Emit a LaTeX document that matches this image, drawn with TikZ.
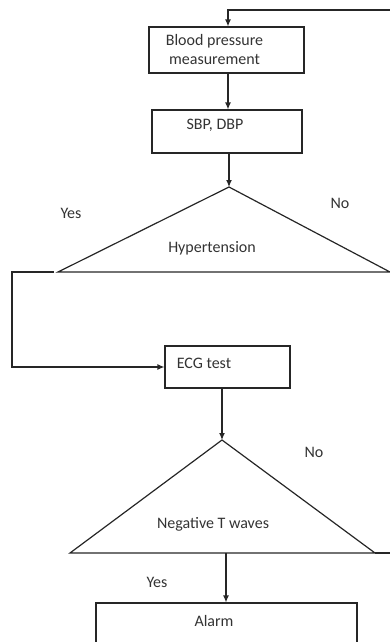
\documentclass[tikz,border=0pt]{standalone}
\usepackage{fontspec}
\setmainfont{Carlito}
\usetikzlibrary{arrows.meta}
\begin{document}
\begin{tikzpicture}[
    x=1pt, y=-1pt,
    every node/.style = {font=\fontsize{16}{19}\selectfont, text=black!80},
    box/.style = {draw=black!85, line width=1.1pt, rectangle, inner sep=0pt},
    flow/.style = {draw=black!85, line width=1.2pt},
    arr/.style = {flow, -{Latex[length=7pt,width=6pt]}}
    ]
    \useasboundingbox (0,0) rectangle (390,642);
    % boxes
    \node[box, minimum width=155pt, minimum height=46pt,
          label={[xshift=-12pt, align=center]center:{Blood pressure\\measurement}}] (bpm) at (226.5,50) {};
    \node[box, minimum width=150pt, minimum height=43pt,
          label={[xshift=-12pt, yshift=6.5pt]center:{SBP, DBP}}] (sbp) at (227,131.5) {};
    \node[box, minimum width=125pt, minimum height=42pt,
          label={[xshift=-23.5pt, yshift=4pt]center:{ECG test}}] (ecg) at (227.5,367) {};
    \node[box, minimum width=261pt, minimum height=56pt,
          label={[xshift=-12.5pt, yshift=10pt]center:{Alarm}}] (alarm) at (226.5,631) {};
    % decisions
    \coordinate (hyp-top) at (229,187);
    \coordinate (hyp-left) at (58,272);
    \coordinate (hyp-right) at (390,272);
    \draw[flow] (hyp-top) -- (hyp-left) -- (hyp-right) -- cycle;
    \node (hyp) at (212,248) {Hypertension};
    \coordinate (ntw-top) at (222,440);
    \coordinate (ntw-left) at (70,553);
    \coordinate (ntw-right) at (375,553);
    \draw[flow] (ntw-top) -- (ntw-left) -- (ntw-right) -- cycle;
    \node (ntw) at (213,524) {Negative T waves};
    % labels
    \node (yes1) at (71,213) {Yes};
    \node (no1) at (340,203) {No};
    \node (no2) at (314,452) {No};
    \node (yes2) at (157,582) {Yes};
    % connectors
    \coordinate (ret) at (228,10);
    \coordinate (edge) at (398,10);
    \draw[arr] (edge) -- (ret) -- (ret |- bpm.north);
    \draw[arr] (bpm.south -| ret) -- (sbp.north -| ret);
    \draw[arr] (sbp.south -| hyp-top) -- (hyp-top);
    \draw[flow] (hyp-right) -- (edge |- hyp-right) -- (edge);
    \coordinate (yes-out) at (12,272);
    \draw[arr] (54,272) -- (yes-out) |- (ecg.west);
    \draw[arr] (ecg.south -| ntw-top) -- (ntw-top);
    \draw[flow] (ntw-right) -- (edge |- ntw-right) -- (edge |- hyp-right);
    \draw[arr] (226,553) -- (alarm.north -| 226,0);
\end{tikzpicture}
\end{document}
